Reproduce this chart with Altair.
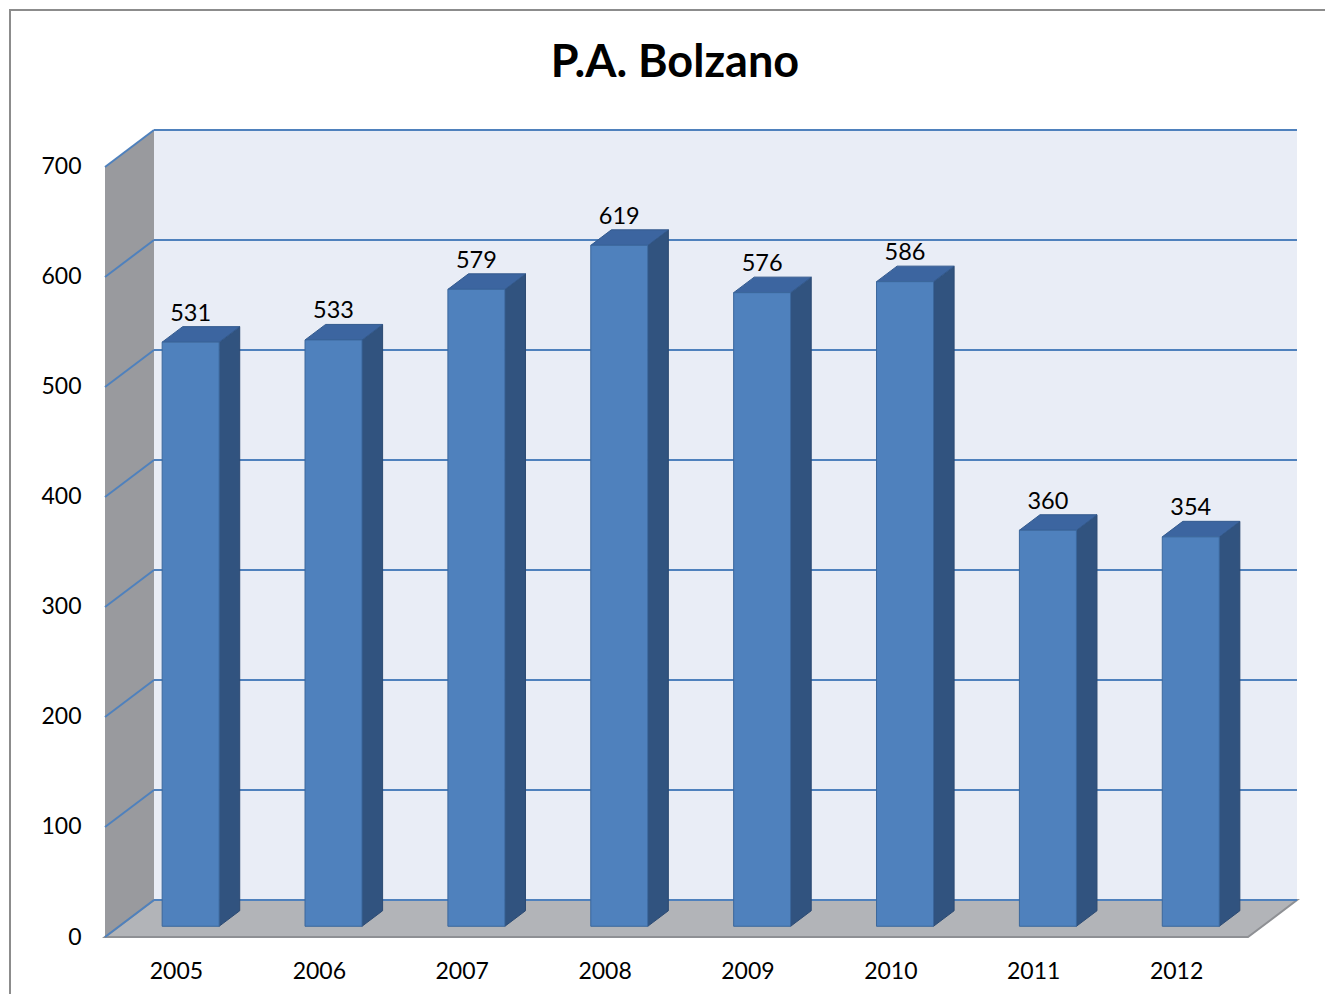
import altair as alt
import pandas as pd

# ---- data ----
years = ["2005", "2006", "2007", "2008", "2009", "2010", "2011", "2012"]
values = [531, 533, 579, 619, 576, 586, 360, 354]
y_ticks = [0, 100, 200, 300, 400, 500, 600, 700]
title_text = "P.A. Bolzano"

# ---- 3D geometry (x in px units, y in value units) ----
FRONT_W = 1143.0
N = len(years)
STEP = FRONT_W / N
DEPTH_X = 49.0
DEPTH_Y = 33.6
Y_MAX = 700 + DEPTH_Y
X_MAX = FRONT_W + DEPTH_X
BAR_HALF = 28.5
D0, D1 = 0.29, 0.71
DXB = DEPTH_X * (D1 - D0)
DYB = DEPTH_Y * (D1 - D0)

xs = alt.Scale(domain=[0, X_MAX], nice=False, zero=False)
ys = alt.Scale(domain=[0, Y_MAX], nice=False, zero=False)

FONT = "Lato"
YAX = alt.Axis(values=y_ticks, ticks=False, domain=False, grid=False,
               labelPadding=24, labelFont=FONT, labelFontSize=23,
               labelColor="#000000", labelFlush=False, title=None)

bars, side, top = [], [], []
for i, (yr, v) in enumerate(zip(years, values)):
    c = (i + 0.5) * STEP
    xf0 = c - BAR_HALF + DEPTH_X * D0
    xf1 = c + BAR_HALF + DEPTH_X * D0
    yb = DEPTH_Y * D0
    yt = v + yb
    bars.append(dict(year=yr, value=v, c=c, xf0=xf0, xf1=xf1, xm=(xf0 + xf1) / 2,
                     yb=yb, yt=yt, ylab=yt + DYB, zero=0))
    side.append(dict(year=yr, x=xf1, lo=yb, hi=yt))
    side.append(dict(year=yr, x=xf1 + DXB, lo=yb + DYB, hi=yt + DYB))
    top.append(dict(year=yr, y=yt, xl=xf0, xr=xf1))
    top.append(dict(year=yr, y=yt + DYB, xl=xf0 + DXB, xr=xf1 + DXB))

bars_df = pd.DataFrame(bars)
side_df = pd.DataFrame(side)
top_df = pd.DataFrame(top)

back_df = pd.DataFrame([dict(x=DEPTH_X, x2=X_MAX, y=DEPTH_Y, y2=Y_MAX)])
sidewall_df = pd.DataFrame([dict(x=0, lo=0, hi=700), dict(x=DEPTH_X, lo=DEPTH_Y, hi=Y_MAX)])
floor_df = pd.DataFrame([dict(y=0, xl=0, xr=FRONT_W), dict(y=DEPTH_Y, xl=DEPTH_X, xr=X_MAX)])

grid = []
for t in y_ticks:
    grid.append(dict(x=DEPTH_X, x2=X_MAX, y=t + DEPTH_Y, y2=t + DEPTH_Y))
    grid.append(dict(x=0, x2=DEPTH_X, y=t, y2=t + DEPTH_Y))
grid_df = pd.DataFrame(grid)

back = alt.Chart(back_df).mark_rect(fill="#E9EDF6").encode(
    x=alt.X("x:Q", scale=xs, axis=None),
    x2="x2:Q",
    y=alt.Y("y:Q", scale=ys, axis=YAX),
    y2="y2:Q",
)

sidewall = alt.Chart(sidewall_df).mark_area(fill="#999A9E").encode(
    x=alt.X("x:Q", scale=xs, axis=None),
    y=alt.Y("hi:Q", scale=ys, axis=YAX, stack=False),
    y2="lo:Q",
)

floor = alt.Chart(floor_df).mark_area(orient="horizontal", fill="#B2B4B8",
                                      stroke="#8E9094", strokeWidth=2).encode(
    y=alt.Y("y:Q", scale=ys, axis=YAX),
    x=alt.X("xl:Q", scale=xs, axis=None, stack=False),
    x2="xr:Q",
)

gridlines = alt.Chart(grid_df).mark_rule(color="#4F81BD", strokeWidth=2).encode(
    x=alt.X("x:Q", scale=xs, axis=None),
    x2="x2:Q",
    y=alt.Y("y:Q", scale=ys, axis=YAX),
    y2="y2:Q",
)

side_faces = alt.Chart(side_df).mark_area(fill="#31537F", stroke="#2C4A72", strokeWidth=1).encode(
    x=alt.X("x:Q", scale=xs, axis=None),
    y=alt.Y("hi:Q", scale=ys, axis=YAX, stack=False),
    y2="lo:Q",
    detail="year:N",
)

top_faces = alt.Chart(top_df).mark_area(orient="horizontal", fill="#3C65A0",
                                        stroke="#335A8E", strokeWidth=1).encode(
    y=alt.Y("y:Q", scale=ys, axis=YAX),
    x=alt.X("xl:Q", scale=xs, axis=None, stack=False),
    x2="xr:Q",
    detail="year:N",
)

front = alt.Chart(bars_df).mark_rect(fill="#4F81BD", stroke="#3B679C", strokeWidth=1).encode(
    x=alt.X("xf0:Q", scale=xs, axis=None),
    x2="xf1:Q",
    y=alt.Y("yb:Q", scale=ys, axis=YAX),
    y2="yt:Q",
)

value_labels = alt.Chart(bars_df).mark_text(font=FONT, fontSize=23.5, color="#000000",
                                            baseline="bottom", dy=-1).encode(
    x=alt.X("xm:Q", scale=xs, axis=None),
    y=alt.Y("ylab:Q", scale=ys, axis=YAX),
    text="value:Q",
)

year_labels = alt.Chart(bars_df).mark_text(font=FONT, fontSize=23, color="#000000",
                                           baseline="middle", dy=35).encode(
    x=alt.X("c:Q", scale=xs, axis=None),
    y=alt.Y("zero:Q", scale=ys, axis=YAX),
    text="year:N",
)

title_mark = alt.Chart(pd.DataFrame({"t": [title_text]})).mark_text(
    font=FONT, fontSize=45, fontWeight="bold", color="#000000",
    align="center", baseline="alphabetic").encode(
    x=alt.value(570), y=alt.value(-53), text="t:N",
)

border = alt.Chart(pd.DataFrame({"k": [0]})).mark_rect(
    fillOpacity=0, stroke="#8C8C8C", strokeWidth=2).encode(
    x=alt.value(-95), x2=alt.value(1300), y=alt.value(-120), y2=alt.value(950),
)

chart = alt.layer(
    back, sidewall, floor, gridlines, side_faces, top_faces, front,
    value_labels, year_labels, title_mark, border,
).properties(
    width=1192,
    height=807,
    autosize=alt.AutoSizeParams(type="none"),
    padding={"left": 97, "top": 122, "right": 28, "bottom": 57},
    background="white",
).configure_view(strokeWidth=0)

chart.save("out.html", embed_options={"renderer": "svg", "actions": False})
